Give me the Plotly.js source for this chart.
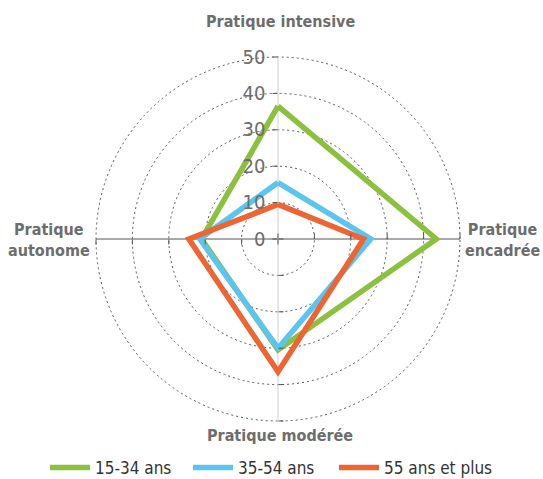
<!DOCTYPE html>
<html><head><meta charset="utf-8">
<script src="https://cdn.plot.ly/plotly-3.0.1.min.js"></script>
<style>html,body{margin:0;padding:0;background:#fff}</style>
</head><body><div id="chart" style="width:543px;height:479px"></div>
<script>
const categories = ["Pratique intensive", "Pratique encadrée", "Pratique modérée", "Pratique autonome"];
const series_15_34 = [36.5, 43.5, 30.5, 21];
const series_35_54 = [15.5, 25.5, 30, 21.5];
const series_55_plus = [9.5, 23.5, 36.5, 24.5];
const seriesNames = ["15-34 ans", "35-54 ans", "55 ans et plus"];
const colors = ["#8cc03f", "#5bc5f0", "#ee6534"];
const radialTicks = [0, 10, 20, 30, 40, 50];
const categoryLabels = ["Pratique intensive", "Pratique<br>encadrée", "Pratique modérée", "Pratique<br>autonome"];

const close = a => a.concat([a[0]]);
const thetaC = close(categories);
const allSeries = [series_15_34, series_35_54, series_55_plus];
const legendIds = ["legend", "legend2", "legend3"];
const traces = [];
["polar2","polar3","polar4"].forEach(p => traces.push({type:"scatterpolar", r:[], theta:[], subplot:p, showlegend:false, hoverinfo:"skip"}));
allSeries.forEach((s, i) => traces.push({
  type: "scatterpolar", r: close(s), theta: thetaC, mode: "lines",
  name: seriesNames[i], line: {color: colors[i], width: 5.5, shape: "linear"},
  subplot: "polar", legend: legendIds[i]
}));
const rMax = 50.5;
const rPx = 182 * rMax / 50;
const cx = 278, cy = 239;
const dom = {x:[(cx - rPx) / 543, (cx + rPx) / 543], y:[(479 - cy - rPx) / 479, (479 - cy + rPx) / 479]};
const font = "'DejaVu Sans Condensed', sans-serif";
function polarCfg(angle, main) {
  return {
    domain: dom, bgcolor: "rgba(0,0,0,0)",
    radialaxis: {
      range: [0, rMax], tickvals: radialTicks, angle: angle, tickangle: 90,
      side: "counterclockwise", showline: false,
      ticks: "outside", ticklen: 5, tickcolor: "#555",
      showticklabels: main, showgrid: main,
      gridcolor: "#555", griddash: "2px,3px", gridwidth: 1,
      tickfont: {family: font, size: 20, color: "#6d6d6d"}
    },
    angularaxis: {
      type: "category", categoryarray: categories, rotation: 90, direction: "clockwise",
      showgrid: false, showline: false,
      showticklabels: false, ticks: ""
    }
  };
}
const spokeR = [0, 50];
const spokeColors = ["#cfcfcf", "#555", "#cfcfcf", "#555"];
categories.forEach((c, i) => traces.unshift({
  type: "scatterpolar", r: spokeR, theta: [c, c], mode: "lines", subplot: "polar",
  line: {color: spokeColors[i], width: 1}, showlegend: false, hoverinfo: "skip"
}));
const labelFont = {family: font, size: 16, color: "#6d6d6d", weight: "bold"};
const labelPos = [[280, 22], [502, 240], [280, 435], [49, 240]];
const annotations = categoryLabels.map((t, i) => ({
  text: t, xref: "paper", yref: "paper", x: labelPos[i][0] / 543, y: 1 - labelPos[i][1] / 479,
  xanchor: "center", yanchor: "middle", align: "center", showarrow: false, font: labelFont
}));
const legendX = [45, 188, 334];
const layout = {
  width: 543, height: 479, margin: {l:0, r:0, t:0, b:0, autoexpand: false},
  paper_bgcolor: "#fff",
  showlegend: true,
  annotations: annotations,
  polar: polarCfg(90, true),
  polar2: polarCfg(0, false),
  polar3: polarCfg(180, false),
  polar4: polarCfg(270, false)
};
legendIds.forEach((id, i) => {
  layout[id] = {orientation: "h", x: legendX[i] / 543, xanchor: "left", y: 11 / 479, yanchor: "middle",
    font: {family: font, size: 17, color: "#333"}, itemwidth: 40, bgcolor: "rgba(0,0,0,0)"};
});
Plotly.newPlot("chart", traces, layout, {displayModeBar: false});
</script></body></html>
